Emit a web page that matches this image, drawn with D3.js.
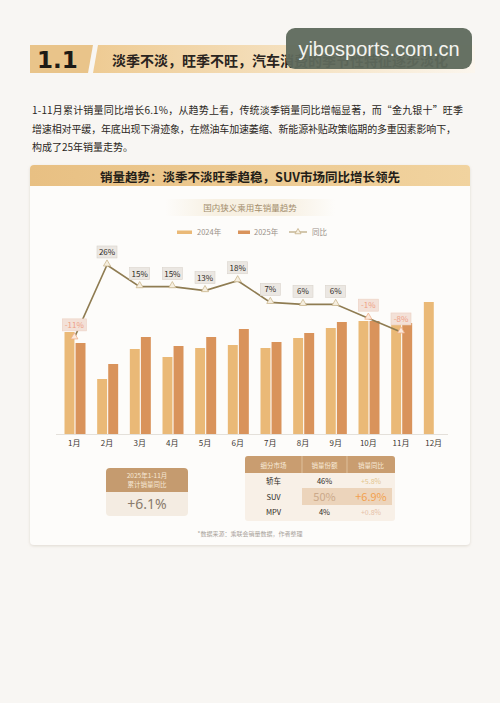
<!DOCTYPE html>
<html>
<head>
<meta charset="utf-8">
<script src="https://cdn.jsdelivr.net/npm/d3@7"></script>
<style>
body { margin:0; background:#f8f6f3; }
svg { display:block; font-family:"Noto Sans CJK SC","Noto Sans",sans-serif; }
</style>
</head>
<body>
<div id="chart"></div>
<script>
// data (万辆 / %)
var months = ["1月","2月","3月","4月","5月","6月","7月","8月","9月","10月","11月","12月"];
var sales2024 = [204, 110, 170, 154, 172, 178, 172, 192, 212, 226, 224, 264];
var sales2025 = [182, 140, 194, 176, 194, 210, 184, 202, 224, 226, 222];
var yoy = [-11, 26, 15, 15, 13, 18, 7, 6, 6, -1, -8];
var seriesNames = ["2024年", "2025年", "同比"];

var segNames = ["轿车", "SUV", "MPV"];
var segShare = ["46%", "50%", "4%"];
var segYoy = ["+5.8%", "+6.9%", "+0.8%"];
var tableHead = ["细分市场", "销量份额", "销量同比"];

var paragraph = [
  "1-11月累计销量同比增长6.1%，从趋势上看，传统淡季销量同比增幅显著，而“金九银十”旺季",
  "增速相对平缓，年底出现下滑迹象，在燃油车加速萎缩、新能源补贴政策临期的多重因素影响下，",
  "构成了25年销量走势。"
];

var w = 500, h = 703;
var vis = d3.select("#chart").append("svg").attr("width", w).attr("height", h);
var defs = vis.append("defs");

var c2024 = "#eab977", c2025 = "#d9935b", cLine = "#8f7c52";

// ---- section header ----
var g1 = defs.append("linearGradient").attr("id", "hdr");
g1.append("stop").attr("offset", "0").attr("stop-color", "#eecb93");
g1.append("stop").attr("offset", "0.6").attr("stop-color", "#f6e4c6");
g1.append("stop").attr("offset", "1").attr("stop-color", "#fbf6ee");
vis.append("path").attr("d", "M30,45 L93,45 L88,73 L30,73 Z").attr("fill", "#e9c48a");
vis.append("path").attr("d", "M98,45 L475,45 L475,73 L93,73 Z").attr("fill", "url(#hdr)");
vis.append("text").attr("x", 37).attr("y", 68).attr("font-size", 23).attr("font-weight", 900)
   .attr("fill", "#1d1a15").attr("font-family", "DejaVu Sans").text("1.1");
vis.append("text").attr("x", 112).attr("y", 65.5).attr("font-size", 14).attr("font-weight", 700)
   .attr("fill", "#2a2420").text("淡季不淡，旺季不旺，汽车消费的季节性特征逐步淡化");

// watermark overlay
vis.append("rect").attr("x", 286).attr("y", 28).attr("width", 186).attr("height", 41).attr("rx", 9)
   .attr("fill", "#5e695c").attr("opacity", 0.95);
vis.append("text").attr("x", 379).attr("y", 56).attr("text-anchor", "middle").attr("font-size", 20)
   .attr("fill", "#f4f4f0").attr("font-family", "Liberation Sans").text("yibosports.com.cn");

// ---- paragraph ----
vis.selectAll("text.para").data(paragraph).enter().append("text")
   .attr("class", "para")
   .attr("x", 32)
   .attr("y", function(d, i) { return 114 + i * 18.5; })
   .attr("font-size", 10).attr("fill", "#2b2622")
   .attr("textLength", function(d, i) { return i == 0 ? 431 : (i == 1 ? 424 : null); })
   .attr("lengthAdjust", "spacing")
   .text(function(d) { return d; });

// ---- card ----
defs.append("filter").attr("id", "sh").append("feDropShadow")
   .attr("dx", 0).attr("dy", 1).attr("stdDeviation", 1.5).attr("flood-color", "#b0a590").attr("flood-opacity", 0.35);
vis.append("rect").attr("x", 30).attr("y", 165).attr("width", 440).attr("height", 380).attr("rx", 4)
   .attr("fill", "#fdfcfa").attr("filter", "url(#sh)");
var g2 = defs.append("linearGradient").attr("id", "cardHdr");
g2.append("stop").attr("offset", "0").attr("stop-color", "#e8c083");
g2.append("stop").attr("offset", "1").attr("stop-color", "#f1d39f");
vis.append("path").attr("d", "M30,186 L30,169 Q30,165 34,165 L466,165 Q470,165 470,169 L470,186 Z")
   .attr("fill", "url(#cardHdr)");
vis.append("text").attr("x", 250).attr("y", 181.5).attr("text-anchor", "middle").attr("font-size", 12.5)
   .attr("font-weight", 700).attr("fill", "#231d17").text("销量趋势：淡季不淡旺季趋稳，SUV市场同比增长领先");

// chart subtitle
var g3 = defs.append("linearGradient").attr("id", "subBg");
g3.append("stop").attr("offset", "0").attr("stop-color", "#f7f0e2").attr("stop-opacity", 0);
g3.append("stop").attr("offset", "0.3").attr("stop-color", "#f7f0e2");
g3.append("stop").attr("offset", "0.7").attr("stop-color", "#f7f0e2");
g3.append("stop").attr("offset", "1").attr("stop-color", "#f7f0e2").attr("stop-opacity", 0);
vis.append("rect").attr("x", 165).attr("y", 199).attr("width", 170).attr("height", 17).attr("fill", "url(#subBg)");
vis.append("text").attr("x", 250).attr("y", 210.5).attr("text-anchor", "middle").attr("font-size", 8.5)
   .attr("fill", "#a38d6c").text("国内狭义乘用车销量趋势");

// legend
var legX = [177, 238, 289];
var leg = vis.selectAll("g.leg").data(seriesNames).enter().append("g")
   .attr("class", "leg")
   .attr("transform", function(d, i) { return "translate(" + legX[i] + ",232)"; });
leg.filter(function(d, i) { return i < 2; }).append("rect")
   .attr("x", 0).attr("y", -1.5).attr("width", function(d, i) { return i == 0 ? 15 : 12; }).attr("height", 3.5)
   .attr("fill", function(d, i) { return i == 0 ? c2024 : c2025; });
leg.filter(function(d, i) { return i == 2; }).append("line")
   .attr("x1", 0).attr("x2", 18).attr("y1", 0).attr("y2", 0).attr("stroke", "#b7a47a").attr("stroke-width", 1.2);
leg.filter(function(d, i) { return i == 2; }).append("path")
   .attr("d", d3.symbol(d3.symbolTriangle, 16)).attr("transform", "translate(9,0)")
   .attr("fill", "#f6efe0").attr("stroke", "#c5b089").attr("stroke-width", 0.8);
leg.append("text")
   .attr("x", function(d, i) { return i == 0 ? 20 : (i == 1 ? 16 : 23); })
   .attr("y", 3).attr("font-size", 7.5).attr("fill", "#9a9189")
   .text(function(d) { return d; });

// scales
var x0 = d3.scaleBand().domain(months).range([58, 450]);
var x1 = d3.scaleBand().domain(["2024", "2025"]).range([6.5, 27.5]).paddingInner(0.1);
var yBar = d3.scaleLinear().domain([0, 300]).range([434, 284]);
var yLine = d3.scaleLinear().domain([-20, 40]).range([355.6, 237.4]);

// bars
vis.selectAll("rect.b24").data(sales2024).enter().append("rect")
   .attr("class", "b24")
   .attr("x", function(d, i) { return x0(months[i]) + x1("2024"); })
   .attr("y", function(d) { return yBar(d); })
   .attr("width", x1.bandwidth())
   .attr("height", function(d) { return yBar(0) - yBar(d); })
   .attr("fill", c2024);
vis.selectAll("rect.b25").data(sales2025).enter().append("rect")
   .attr("class", "b25")
   .attr("x", function(d, i) { return x0(months[i]) + x1("2025"); })
   .attr("y", function(d) { return yBar(d); })
   .attr("width", x1.bandwidth())
   .attr("height", function(d) { return yBar(0) - yBar(d); })
   .attr("fill", c2025);

// x axis
var xAxis = vis.append("g").attr("transform", "translate(0,434)")
   .call(d3.axisBottom(x0).tickSize(0).tickPadding(6));
xAxis.select(".domain").attr("d", "M56,0.5H448").attr("stroke", "#e4e0da");
xAxis.selectAll("text").attr("font-size", 8).attr("fill", "#3d3732")
   .attr("font-family", "Noto Sans CJK SC");

// yoy line
function cx(i) { return x0(months[i]) + x0.bandwidth() / 2; }
var line = d3.line().x(function(d, i) { return cx(i); }).y(function(d) { return yLine(d); });
vis.append("path").datum(yoy).attr("d", line).attr("fill", "none")
   .attr("stroke", cLine).attr("stroke-width", 1.6);
vis.selectAll("path.tri").data(yoy).enter().append("path")
   .attr("class", "tri")
   .attr("d", d3.symbol(d3.symbolTriangle, 22))
   .attr("transform", function(d, i) { return "translate(" + cx(i) + "," + (yLine(d) - 1) + ")"; })
   .attr("fill", function(d) { return d < 0 ? "#fbe9dc" : "#f6efe0"; })
   .attr("stroke", function(d) { return d < 0 ? "#efb08c" : "#cbb88f"; })
   .attr("stroke-width", 0.8);

var lab = vis.selectAll("g.lab").data(yoy).enter().append("g")
   .attr("class", "lab")
   .attr("transform", function(d, i) { return "translate(" + cx(i) + "," + (yLine(d) - 13) + ")"; });
lab.append("rect")
   .attr("x", function(d) { return String(d).length > 2 ? -12 : -10; })
   .attr("y", -6)
   .attr("width", function(d) { return String(d).length > 2 ? 24 : 20; })
   .attr("height", 12)
   .attr("fill", function(d) { return d < 0 ? "#f3e1d8" : "#ebe7e2"; })
   .attr("stroke", function(d) { return d < 0 ? "#ecd0c2" : "#d9d3cb"; })
   .attr("stroke-width", 0.6);
lab.append("text").attr("text-anchor", "middle").attr("y", 3).attr("font-size", 8)
   .attr("fill", function(d) { return d < 0 ? "#ee9f86" : "#2f2a25"; })
   .text(function(d) { return d + "%"; });

// ---- KPI box ----
vis.append("path").attr("d", "M106,492 L106,472 Q106,468 110,468 L184,468 Q188,468 188,472 L188,492 Z")
   .attr("fill", "#c59b6f");
vis.append("path").attr("d", "M106,492 L188,492 L188,512 Q188,516 184,516 L110,516 Q106,516 106,512 Z")
   .attr("fill", "#f4ece2");
vis.append("text").attr("x", 147).attr("y", 478).attr("text-anchor", "middle").attr("font-size", 6.5)
   .attr("fill", "#f6e8d6").text("2025年1-11月");
vis.append("text").attr("x", 147).attr("y", 486.5).attr("text-anchor", "middle").attr("font-size", 6.5)
   .attr("fill", "#f6e8d6").text("累计销量同比");
vis.append("text").attr("x", 147).attr("y", 509).attr("text-anchor", "middle").attr("font-size", 14)
   .attr("fill", "#8a7b6c").attr("font-family", "Noto Sans").text("+6.1%");

// ---- table ----
var colX = [245, 302, 347, 395];
vis.append("rect").attr("x", 245).attr("y", 456).attr("width", 150).attr("height", 65).attr("rx", 3)
   .attr("fill", "#f8f0e7");
vis.append("path").attr("d", "M245,473 L245,459 Q245,456 248,456 L392,456 Q395,456 395,459 L395,473 Z")
   .attr("fill", "#c99d70");
vis.selectAll("line.coldiv").data([302, 347]).enter().append("line")
   .attr("class", "coldiv")
   .attr("x1", function(d) { return d; }).attr("x2", function(d) { return d; })
   .attr("y1", 456).attr("y2", 473).attr("stroke", "#e5c9a8").attr("stroke-width", 0.8);
vis.selectAll("text.th").data(tableHead).enter().append("text")
   .attr("class", "th")
   .attr("x", function(d, i) { return (colX[i] + colX[i + 1]) / 2; })
   .attr("y", 467.5).attr("text-anchor", "middle").attr("font-size", 6.5).attr("fill", "#f8ead8")
   .text(function(d) { return d; });
// SUV highlight
vis.append("rect").attr("x", 302).attr("y", 488).attr("width", 90).attr("height", 17).attr("fill", "#ecd4bb");
var rowY = [483.5, 499.5, 515];
vis.selectAll("text.seg").data(segNames).enter().append("text")
   .attr("class", "seg")
   .attr("x", (colX[0] + colX[1]) / 2).attr("y", function(d, i) { return rowY[i]; })
   .attr("text-anchor", "middle").attr("font-size", 7.5).attr("fill", "#2e2925")
   .text(function(d) { return d; });
vis.selectAll("text.share").data(segShare).enter().append("text")
   .attr("class", "share")
   .attr("x", (colX[1] + colX[2]) / 2).attr("y", function(d, i) { return rowY[i] + (i == 1 ? 1 : 0); })
   .attr("text-anchor", "middle")
   .attr("font-size", function(d, i) { return i == 1 ? 11 : 7.5; })
   .attr("fill", function(d, i) { return i == 1 ? "#cba98a" : "#2e2925"; })
   .text(function(d) { return d; });
vis.selectAll("text.syoy").data(segYoy).enter().append("text")
   .attr("class", "syoy")
   .attr("x", (colX[2] + colX[3]) / 2).attr("y", function(d, i) { return rowY[i] + (i == 1 ? 1 : 0); })
   .attr("text-anchor", "middle")
   .attr("font-size", function(d, i) { return i == 1 ? 11 : 7; })
   .attr("fill", function(d, i) { return i == 1 ? "#f2a14f" : (i == 0 ? "#e3c58e" : "#e6bfa6"); })
   .text(function(d) { return d; });

// source
vis.append("text").attr("x", 250).attr("y", 535.5).attr("text-anchor", "middle").attr("font-size", 6)
   .attr("fill", "#a9a39b").text("*数据来源：乘联会销量数据，作者整理");
</script>
</body>
</html>
